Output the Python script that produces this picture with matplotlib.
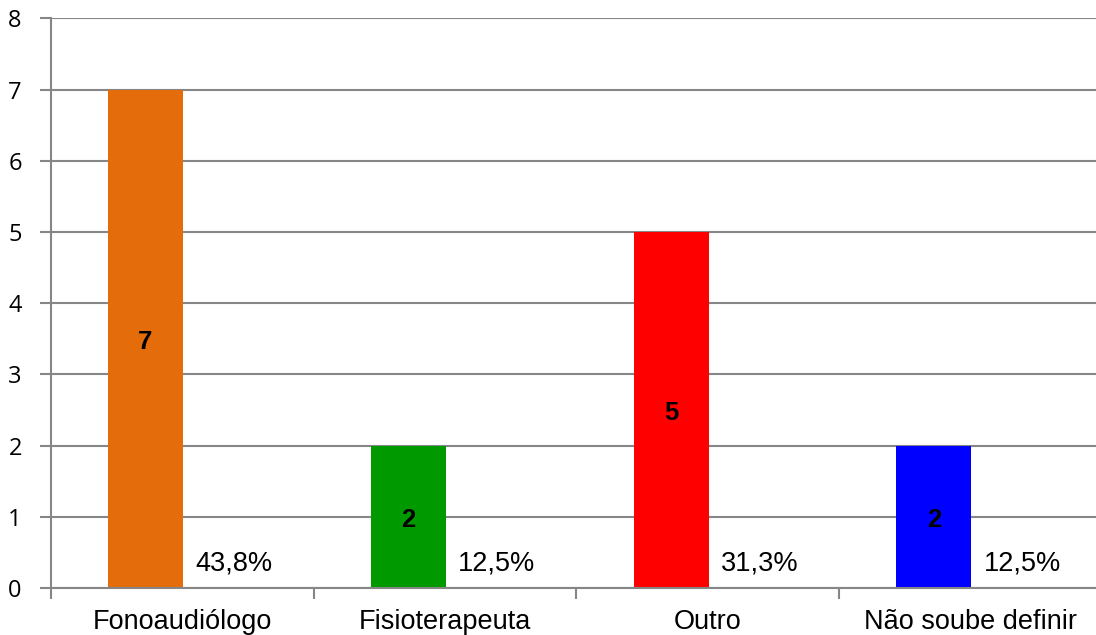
import matplotlib
matplotlib.use("Agg")
import matplotlib.pyplot as plt
import numpy as np

categories = ["Fonoaudiólogo", "Fisioterapeuta", "Outro", "Não soube definir"]
counts = [7, 2, 5, 2]
percent_labels = ["43,8%", "12,5%", "31,3%", "12,5%"]
colors = ["#E46C0A", "#009A00", "#FF0000", "#0000FF"]
yticks = [0, 1, 2, 3, 4, 5, 6, 7, 8]

fig = plt.figure(figsize=(10.96, 6.35), dpi=100)
ax = fig.add_axes([0.0465, 0.074, 0.959, 0.897])

x = np.arange(len(categories))
bar_off = -0.140
bar_w = 0.2855
grid_c = "#868686"

for yv in yticks:
    ax.axhline(yv, color=grid_c, lw=1.5, zorder=1)

ax.bar(x + bar_off, counts, width=bar_w, color=colors, zorder=2)

for i, (c, p) in enumerate(zip(counts, percent_labels)):
    ax.text(x[i] + bar_off, c / 2 - 0.04, str(c), ha="center", va="center",
            fontsize=18.5, fontweight="bold", family="Liberation Sans", zorder=3)
    ax.text(x[i] + 0.196, 0.35, p, ha="center", va="center",
            fontsize=19.5, family="Liberation Sans", zorder=3)

ax.set_xlim(-0.5, len(categories) - 0.5)
ax.set_ylim(0, 8)

ax.set_xticks(x)
ax.set_xticklabels(categories, fontsize=19.5, family="Liberation Sans")
ax.set_xticks(np.arange(-0.5, len(categories) - 0.4, 1.0), minor=True)
ax.tick_params(axis="x", which="major", length=0, pad=15)
ax.tick_params(axis="x", which="minor", length=8, width=1.5, color=grid_c, direction="out")

ax.set_yticks(yticks)
ax.set_yticklabels([str(v) for v in yticks], fontsize=17, family="Open Sans")
ax.tick_params(axis="y", length=8, width=1.5, color=grid_c, direction="out", pad=13)

for s in ["top", "right"]:
    ax.spines[s].set_visible(False)
ax.spines["left"].set_color(grid_c)
ax.spines["left"].set_linewidth(1.5)
ax.spines["bottom"].set_color(grid_c)
ax.spines["bottom"].set_linewidth(1.5)

fig.savefig("out.png", dpi=100)
